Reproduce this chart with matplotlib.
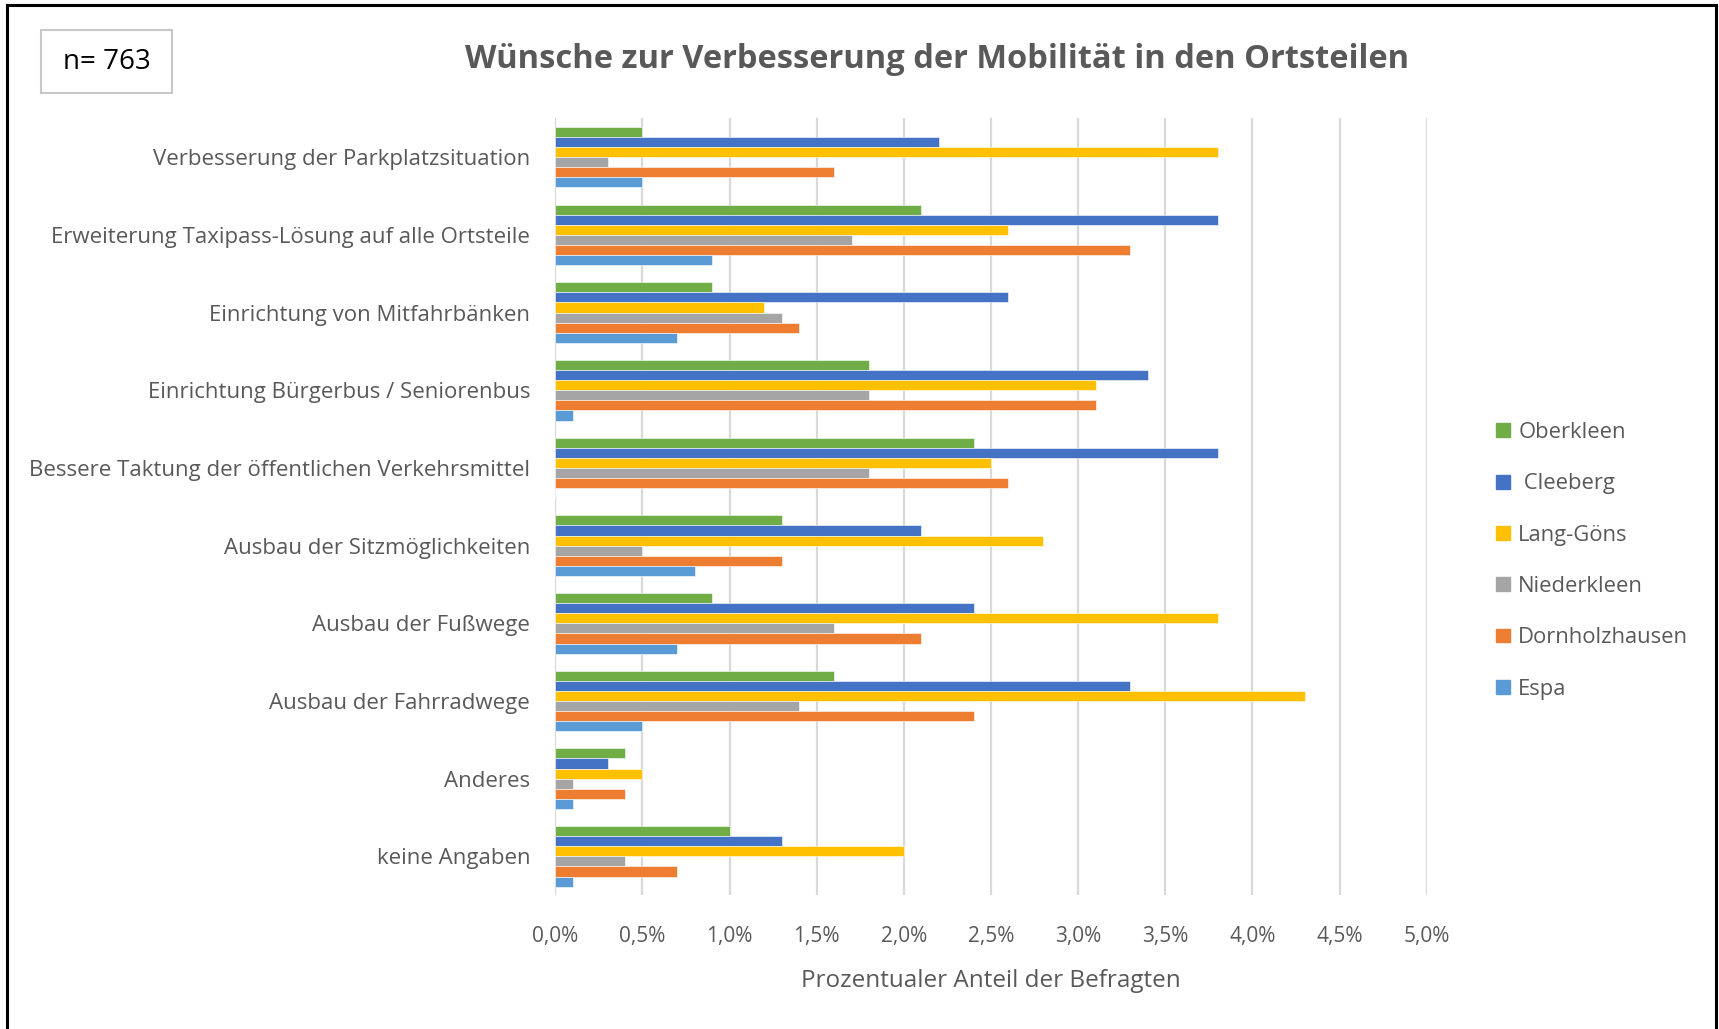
import numpy as np
import matplotlib.pyplot as plt
from matplotlib.lines import Line2D
from matplotlib.patches import Rectangle

# Categories, top to bottom
categories = [
    "Verbesserung der Parkplatzsituation",
    "Erweiterung Taxipass-Lösung auf alle Ortsteile",
    "Einrichtung von Mitfahrbänken",
    "Einrichtung Bürgerbus / Seniorenbus",
    "Bessere Taktung der öffentlichen Verkehrsmittel",
    "Ausbau der Sitzmöglichkeiten",
    "Ausbau der Fußwege",
    "Ausbau der Fahrradwege",
    "Anderes",
    "keine Angaben",
]

# Values in percent, per district (same order as categories)
oberkleen     = [0.5, 2.1, 0.9, 1.8, 2.4, 1.3, 0.9, 1.6, 0.4, 1.0]
cleeberg      = [2.2, 3.8, 2.6, 3.4, 3.8, 2.1, 2.4, 3.3, 0.3, 1.3]
lang_goens    = [3.8, 2.6, 1.2, 3.1, 2.5, 2.8, 3.8, 4.3, 0.5, 2.0]
niederkleen   = [0.3, 1.7, 1.3, 1.8, 1.8, 0.5, 1.6, 1.4, 0.1, 0.4]
dornholzhausen = [1.6, 3.3, 1.4, 3.1, 2.6, 1.3, 2.1, 2.4, 0.4, 0.7]
espa          = [0.5, 0.9, 0.7, 0.1, 0.0, 0.8, 0.7, 0.5, 0.1, 0.1]

series_names = ["Oberkleen", " Cleeberg", "Lang-Göns", "Niederkleen", "Dornholzhausen", "Espa"]
series_values = [oberkleen, cleeberg, lang_goens, niederkleen, dornholzhausen, espa]
colors = ["#70AD47", "#4472C4", "#FFC000", "#A5A5A5", "#ED7D31", "#5B9BD5"]

ticks = np.arange(0, 5.01, 0.5)
tick_labels = [f"{t:.1f}%".replace(".", ",") for t in ticks]

plt.rcParams['font.family'] = ['Open Sans', 'DejaVu Sans']
text_col = "#595959"

fig = plt.figure(figsize=(17.19, 10.29), dpi=100)
ax = fig.add_axes([0.323, 0.130, 0.507, 0.755])

n_cat = len(categories)
n_ser = len(series_names)
bar_h = 0.13
y_base = np.arange(n_cat)  # 0 = top category after inverting
for i, (name, vals, c) in enumerate(zip(series_names, series_values, colors)):
    offs = (i - (n_ser - 1) / 2) * bar_h
    ax.barh(y_base + offs, vals, height=bar_h, color=c, label=name,
            edgecolor="white", linewidth=0.4, zorder=3)

ax.set_ylim(n_cat - 0.5, -0.5)
ax.set_xlim(0, 5.0)
ax.set_xticks(ticks)
ax.set_xticklabels(tick_labels, fontsize=15, color=text_col)
ax.set_yticks(y_base)
ax.set_yticklabels(categories, fontsize=16, color=text_col)
ax.tick_params(axis='both', length=0)
ax.tick_params(axis='x', pad=22)
ax.tick_params(axis='y', pad=18)
ax.grid(axis='x', color="#D9D9D9", linewidth=1.6, zorder=0)
for s in ax.spines.values():
    s.set_visible(False)

ax.set_xlabel("Prozentualer Anteil der Befragten", fontsize=17.5, color=text_col, labelpad=16)

fig.text(0.545, 0.942, "Wünsche zur Verbesserung der Mobilität in den Ortsteilen",
         ha="center", va="center", fontsize=23.5, fontweight="bold", color=text_col)

# n box
fig.patches.append(Rectangle((0.024, 0.910), 0.076, 0.061, transform=fig.transFigure,
                             facecolor="white", edgecolor="#C8C8C8", linewidth=1.5))
fig.text(0.062, 0.940, "n= 763", ha="center", va="center", fontsize=20, color="black")

# legend
handles = [Rectangle((0, 0), 1, 1, color=c) for c in colors]
leg = fig.legend(handles, series_names, loc="center left", bbox_to_anchor=(0.859, 0.455),
                 frameon=False, fontsize=15.8, labelspacing=1.38, handlelength=0.6,
                 handleheight=0.6, handletextpad=0.4)
for t in leg.get_texts():
    t.set_color(text_col)

# outer border (left, top, right)
for xs, ys in [([0.004, 0.004], [0.0, 0.995]), ([0.004, 0.9985], [0.995, 0.995]),
               ([0.9985, 0.9985], [0.995, 0.0])]:
    fig.add_artist(Line2D(xs, ys, transform=fig.transFigure, color="black", linewidth=2.2))

fig.savefig("out.png", dpi=100, facecolor="white")
